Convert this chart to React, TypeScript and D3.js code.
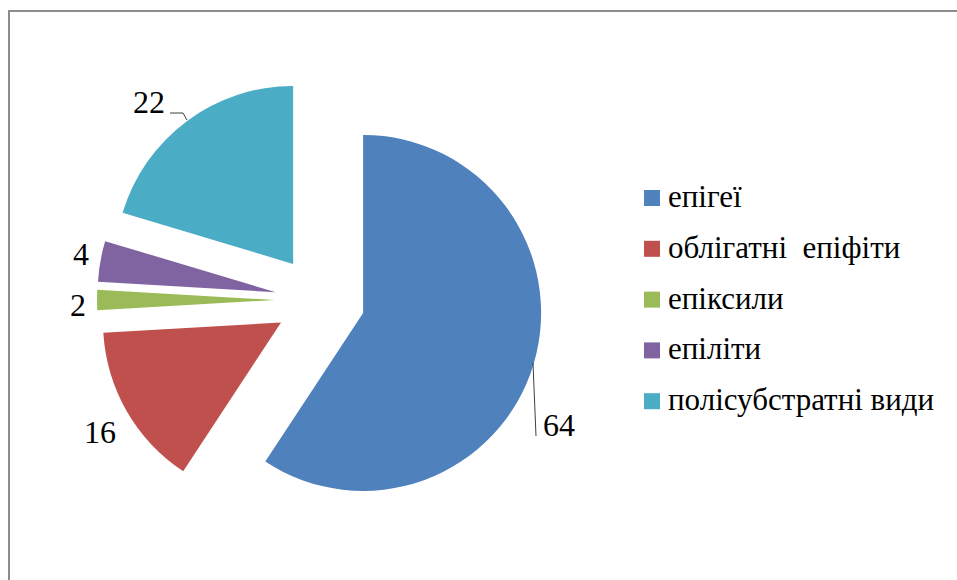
import React from "react";
import * as d3 from "d3";

// Lichen ecological groups by substrate
const categories = [
  "епігеї",
  "облігатні  епіфіти",
  "епіксили",
  "епіліти",
  "полісубстратні види",
];
const values = [64, 16, 2, 4, 22];
const colors = ["#4F81BD", "#C0504D", "#9BBB59", "#8064A2", "#4BACC6"];

const W = 957;
const H = 580;
const CX = 320;
const CY = 300;
const RADIUS = 178;
const EXPLODE = 45;

// Data label anchors: [x, y, text-anchor]
const labelLayout: [number, number, "start" | "end"][] = [
  [543, 436, "start"],
  [116, 443, "end"],
  [86, 316, "end"],
  [89, 265, "end"],
  [165, 113, "end"],
];
// Leader lines for labels sitting away from their slice
const leaders: ([number, number][] | null)[] = [
  [
    [533, 363],
    [536, 436],
  ],
  null,
  null,
  null,
  [
    [170, 113],
    [183, 113],
    [187, 120],
  ],
];

const FONT = "Liberation Serif";

export default function App() {
  const pie = d3
    .pie<number>()
    .sort(null)
    .value((d) => d)
    .startAngle(0)
    .endAngle(2 * Math.PI);
  const arcs = pie(values);
  const arc = d3.arc<d3.PieArcDatum<number>>().innerRadius(0).outerRadius(RADIUS);
  const line = d3.line();

  return (
    <svg
      width={W}
      height={H}
      style={{ position: "absolute", left: 0, top: 0, background: "#fff" }}
    >
      <rect x={9} y={11} width={W + 20} height={H + 20} fill="#fff" stroke="#8c8c8c" strokeWidth={2} />
      {arcs.map((a, i) => {
        const mid = (a.startAngle + a.endAngle) / 2;
        const dx = EXPLODE * Math.sin(mid);
        const dy = -EXPLODE * Math.cos(mid);
        return (
          <path
            key={i}
            d={arc(a) || ""}
            fill={colors[i]}
            transform={`translate(${CX + dx},${CY + dy})`}
          />
        );
      })}
      {leaders.map((l, i) =>
        l ? (
          <path key={i} d={line(l) || ""} fill="none" stroke="#404040" strokeWidth={1} />
        ) : null
      )}
      {arcs.map((a, i) => (
        <text
          key={i}
          x={labelLayout[i][0]}
          y={labelLayout[i][1]}
          textAnchor={labelLayout[i][2]}
          fontFamily={FONT}
          fontSize={32}
          fill="#000"
        >
          {a.data}
        </text>
      ))}
      {categories.map((c, i) => (
        <g key={c} transform={`translate(644,${207 + i * 50.8})`}>
          <rect x={0} y={-17} width={16} height={16} fill={colors[i]} />
          <text
            x={24}
            y={0}
            fontFamily={FONT}
            fontSize={31}
            fill="#000"
            xmlSpace="preserve"
          >
            {c}
          </text>
        </g>
      ))}
    </svg>
  );
}
